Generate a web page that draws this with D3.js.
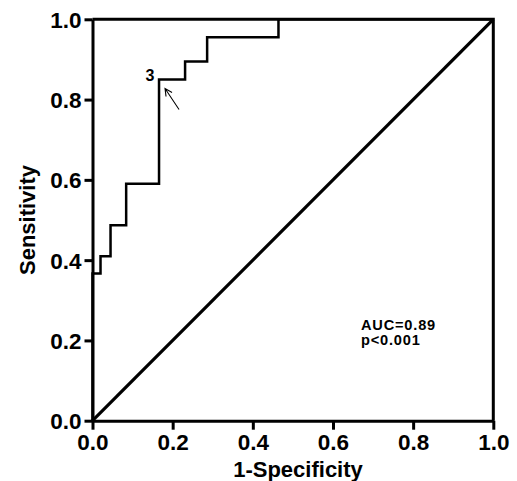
<!DOCTYPE html>
<html>
<head>
<meta charset="utf-8">
<script src="https://cdn.jsdelivr.net/npm/d3@7"></script>
<style>
  body { margin: 0; background: #fff; }
  text { font-family: "Liberation Sans", Arial, sans-serif; font-weight: bold; fill: #000; }
</style>
</head>
<body>
<svg id="chart" width="517" height="481"></svg>
<script>
// data
let fpr = [0, 0.02, 0.045, 0.084, 0.166, 0.231, 0.286, 0.464, 1]
let tpr = [0, 0.367, 0.41, 0.487, 0.59, 0.85, 0.895, 0.955, 1]
let ticks = [0, 0.2, 0.4, 0.6, 0.8, 1.0]
let cutPoint = {label: '3', x: 0.166, y: 0.85}
let notes = ['AUC=0.89', 'p<0.001']

// layout
let padLeft = 92.5, padRight = 493.3, padTop = 19.3, padBottom = 420.7

let svg = d3.select('#chart')

let x = d3.scaleLinear().domain([0, 1]).range([padLeft, padRight])
let y = d3.scaleLinear().domain([0, 1]).range([padBottom, padTop])

// axes
let xAxis = svg.append('g')
  .attr('transform', `translate(0, ${padBottom})`)
  .call(d3.axisBottom(x).tickValues(ticks).tickFormat(d3.format('.1f')).tickSize(9).tickSizeOuter(0))

let yAxis = svg.append('g')
  .attr('transform', `translate(${padLeft}, 0)`)
  .call(d3.axisLeft(y).tickValues(ticks).tickFormat(d3.format('.1f')).tickSize(8).tickSizeOuter(0))

svg.selectAll('.domain').attr('stroke', '#000').attr('stroke-width', 3)
svg.selectAll('.tick line').attr('stroke', '#000').attr('stroke-width', 3)
svg.selectAll('.tick text').attr('font-size', '22.5px').attr('fill', '#000')
xAxis.selectAll('.tick text').attr('y', 13).attr('dy', '0.71em')
yAxis.selectAll('.tick text').attr('x', -11).attr('dy', '0.36em')

// top and right frame
svg.append('path')
  .attr('d', `M${x(0)},${y(1)}H${x(1)}V${y(0)}`)
  .attr('fill', 'none')
  .attr('stroke', '#000')
  .attr('stroke-width', 3)

// reference diagonal
svg.append('line')
  .attr('x1', x(0)).attr('y1', y(0))
  .attr('x2', x(1)).attr('y2', y(1))
  .attr('stroke', '#000')
  .attr('stroke-width', 3.2)

// ROC curve
let pts = fpr.map((d, i) => [d, tpr[i]])
let line = d3.line()
  .x(d => x(d[0]))
  .y(d => y(d[1]))
  .curve(d3.curveStepBefore)

svg.append('path')
  .datum(pts)
  .attr('d', line)
  .attr('fill', 'none')
  .attr('stroke', '#000')
  .attr('stroke-width', 2.5)

// cut point label and arrow
svg.append('text')
  .attr('x', x(cutPoint.x) - 9)
  .attr('y', y(cutPoint.y) + 1)
  .attr('text-anchor', 'middle')
  .attr('font-size', '16px')
  .text(cutPoint.label)

let tip = [x(cutPoint.x) + 6, y(cutPoint.y) + 9]
let tail = [tip[0] + 14, tip[1] + 21]
svg.append('path')
  .attr('d', `M${tail[0]},${tail[1]}L${tip[0]},${tip[1]}M${tip[0] + 1},${tip[1] + 8}L${tip[0]},${tip[1]}L${tip[0] + 7},${tip[1] + 4}`)
  .attr('fill', 'none')
  .attr('stroke', '#000')
  .attr('stroke-width', 1.1)

// AUC note
svg.append('g').selectAll('text')
  .data(notes)
  .join('text')
  .attr('x', x(0.67))
  .attr('y', (d, i) => 329.5 + i * 15)
  .attr('font-size', '14.6px')
  .attr('letter-spacing', '0.8px')
  .text(d => d)

// axis titles
svg.append('text')
  .attr('x', 298)
  .attr('y', 477)
  .attr('text-anchor', 'middle')
  .attr('font-size', '22px')
  .text('1-Specificity')

svg.append('text')
  .attr('transform', `translate(35, ${(padTop + padBottom) / 2}) rotate(-90)`)
  .attr('text-anchor', 'middle')
  .attr('font-size', '22px')
  .text('Sensitivity')
</script>
</body>
</html>
